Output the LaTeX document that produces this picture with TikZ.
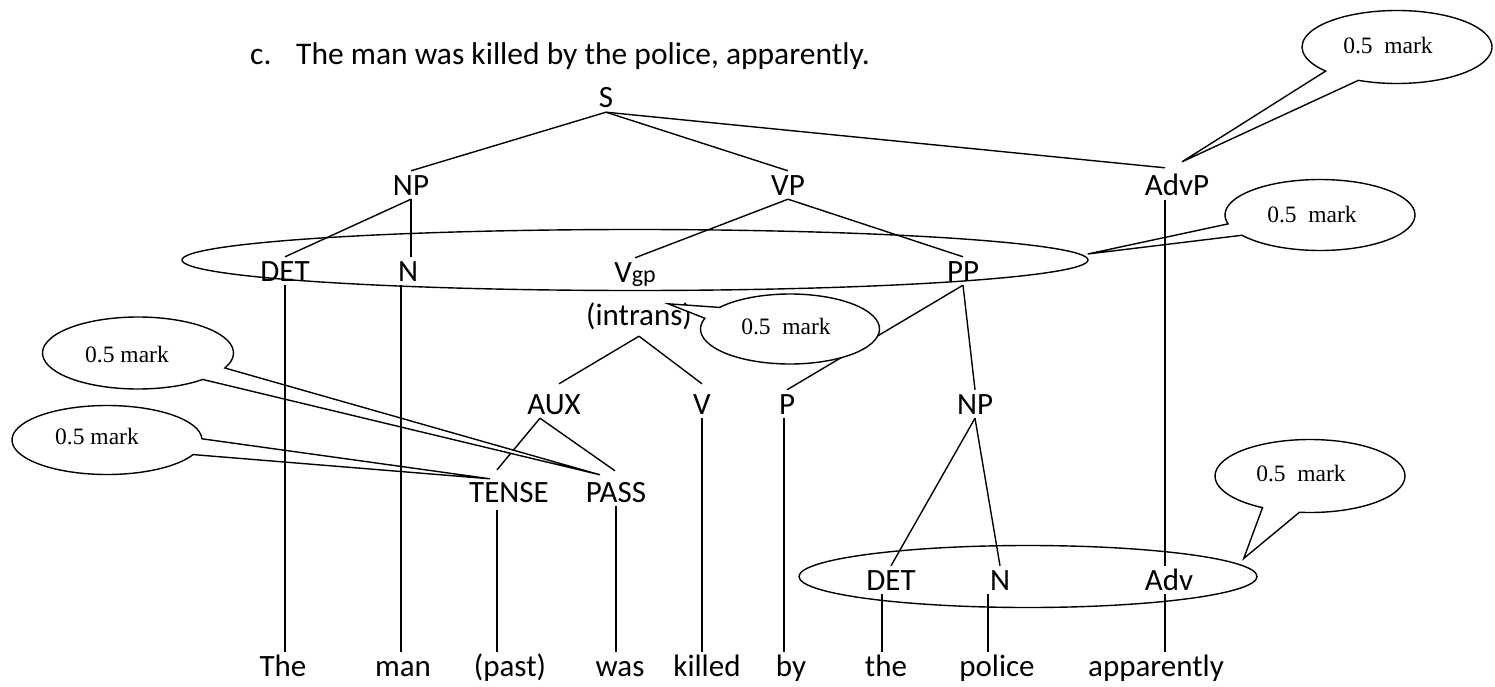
\documentclass[tikz,border=0pt]{standalone}
\usepackage{fontspec}
\setmainfont{Carlito}
\newfontfamily\timesf{Liberation Serif}
\usetikzlibrary{shapes.geometric,calc}
\begin{document}
\begin{tikzpicture}[x=1pt,y=1pt,
  lab/.style={font=\fontsize{31}{36}\selectfont, inner sep=4pt, text height=20pt, text depth=0pt, anchor=base},
  ttl/.style={font=\fontsize{31.5}{36}\selectfont, inner sep=0pt, anchor=base west},
  edge/.style={line width=1.4pt},
  bigell/.style={draw, ellipse, line width=1.4pt, inner sep=0pt},
  callout/.style={draw, fill=white, line width=1.4pt},
  marktext/.style={font=\timesf\fontsize{23.5}{26}\selectfont, inner sep=0pt}
]
\useasboundingbox (0,0) rectangle (1495,-687);

% title
\node[ttl] (cl) at (250,-65) {c.};
\node[ttl] (sent) at (296,-65) {The man was killed by the police, apparently.};

% tree labels
\node[lab] (S) at (606,-108) {S};
\node[lab] (NP) at (411,-195) {NP};
\node[lab] (VP) at (788,-195) {VP};
\node[lab] (AdvP) at (1177,-196) {AdvP};
\node[lab] (DET) at (285,-281) {DET};
\node[lab] (N) at (408,-281) {N};
\node[lab] (Vgp) at (635,-282) {V{\fontsize{24}{24}\selectfont gp}};
\node[lab] (PP) at (963,-281) {PP};
\node[lab, text depth=7pt] (intrans) at (639,-325) {(intrans)};
\node[lab] (AUX) at (554,-414) {AUX};
\node[lab] (V) at (702,-414) {V};
\node[lab] (P) at (787,-414) {P};
\node[lab] (NPb) at (975,-414) {NP};
\node[lab] (TENSE) at (509,-502) {TENSE};
\node[lab] (PASS) at (616,-502) {PASS};
\node[lab] (DETb) at (891,-590) {DET};
\node[lab] (Nb) at (1000,-590) {N};
\node[lab] (Adv) at (1169,-590) {Adv};

% words
\node[lab] (wThe) at (283,-676) {The};
\node[lab] (wman) at (403,-676) {man};
\node[lab] (wpast) at (510,-676) {(past)};
\node[lab] (wwas) at (620,-676) {was};
\node[lab] (wkilled) at (707,-676) {killed};
\node[lab] (wby) at (791,-676) {by};
\node[lab] (wthe) at (886,-676) {the};
\node[lab] (wpolice) at (997,-676) {police};
\node[lab] (wapp) at (1156,-676) {apparently};

% big ellipses
\node[bigell, minimum width=906pt, minimum height=61pt] (E1) at (635,-260) {};
\node[bigell, minimum width=458pt, minimum height=62pt] (E2) at (1028,-576.5) {};

% helper coordinates
\coordinate (t1) at ($(TENSE.south)+(-12,-4)$);
\coordinate (p1) at ($(P.south)+(-3,0)$);
\coordinate (n1) at ($(N.south)+(-7,0)$);
\coordinate (a1) at ($(AdvP.south)+(-12,0)$);
\coordinate (a2) at ($(Adv.south)+(-4,0)$);
\coordinate (d1) at ($(DETb.south)+(-9,0)$);
\coordinate (nb1) at ($(Nb.south)+(-12,0)$);
\coordinate (aux1) at ($(AUX.south)+(-14,0)$);

% tree edges
\draw[edge] (S.south) -- (NP.north);
\draw[edge] (S.south) -- (VP.north);
\draw[edge] (S.south) -- ($(AdvP.north)+(-12,4)$);
\draw[edge] (NP.south) -- (DET.north);
\draw[edge] (NP.south) -- (NP.south |- N.north);
\draw[edge] (VP.south) -- (Vgp.north);
\draw[edge] (VP.south) -- (PP.north);
\draw[edge] (PP.south) -- (P.north);
\draw[edge] (PP.south) -- (NPb.north);
\draw[edge] (intrans.south) -- ($(AUX.north)+(5,6)$);
\draw[edge] (intrans.south) -- ($(V.north)+(0,6)$);
\draw[edge] (aux1) -- ($(TENSE.north)+(-12,8)$);
\draw[edge] (aux1) -- ($(PASS.north)+(-1,7)$);
\draw[edge] (t1) -- (t1 |- wpast.north);
\draw[edge] (PASS.south) -- (PASS.south |- wwas.north);
\draw[edge] (V.south) -- (V.south |- wkilled.north);
\draw[edge] (p1) -- (p1 |- wby.north);
\draw[edge] (NPb.south) -- (DETb.north);
\draw[edge] (NPb.south) -- (Nb.north);
\draw[edge] (d1) -- (d1 |- wthe.north);
\draw[edge] (nb1) -- (nb1 |- wpolice.north);
\draw[edge] (a2) -- (a2 |- wapp.north);

% callouts
\coordinate (k1) at (1397,-47);
\coordinate (k2) at (1320,-215);
\coordinate (k3) at (790,-329);
\coordinate (k4) at (138,-353);
\coordinate (k5) at (107,-440);
\coordinate (k6) at (1310,-476);

\draw[callout] ($(k1)+(246:95pt and 36.5pt)$) arc[start angle=246, end angle=581.3, x radius=95pt, y radius=36.5pt] -- ($(AdvP.north)+(5,10)$) -- cycle;
\draw[callout] ($(k2)+(214.8:95pt and 35.5pt)$) arc[start angle=214.8, end angle=554.5, x radius=95pt, y radius=35.5pt] -- ($(E1.east)+(-1,6)$) -- cycle;
\draw[callout] ($(k3)+(162.1:89.5pt and 35pt)$) arc[start angle=162.1, end angle=501.9, x radius=89.5pt, y radius=35pt] -- ($(intrans.north east)+(-28,-3)$) -- cycle;
\draw[callout] ($(k4)+(335.4:95.5pt and 36pt)$) arc[start angle=335.4, end angle=672.7, x radius=95.5pt, y radius=36pt] -- ($(PASS.north)+(-16,3)$) -- cycle;
\draw[callout] ($(k5)+(2:95pt and 34.5pt)$) arc[start angle=2, end angle=335, x radius=95pt, y radius=34.5pt] -- ($(TENSE.north)+(-19,-1)$) -- cycle;
\draw[callout] ($(k6)+(263.6:95pt and 36.5pt)$) arc[start angle=263.6, end angle=600, x radius=95pt, y radius=36.5pt] -- ($(E2.east)+(-14,18)$) -- cycle;

\node[marktext] (m1) at (1388,-46) {0.5~~mark};
\node[marktext] (m2) at (1312,-215) {0.5~~mark};
\node[marktext] (m3) at (786,-327) {0.5~~mark};
\node[marktext] (m4) at (127,-355) {0.5~mark};
\node[marktext] (m5) at (97,-437) {0.5~mark};
\node[marktext] (m6) at (1301,-474) {0.5~~mark};

% vertical lines drawn over the callout pointers
\draw[edge] (DET.south) -- (DET.south |- wThe.north);
\draw[edge] (n1) -- (n1 |- wman.north);
\draw[edge] (a1) -- (a1 |- Adv.north);
\end{tikzpicture}
\end{document}
